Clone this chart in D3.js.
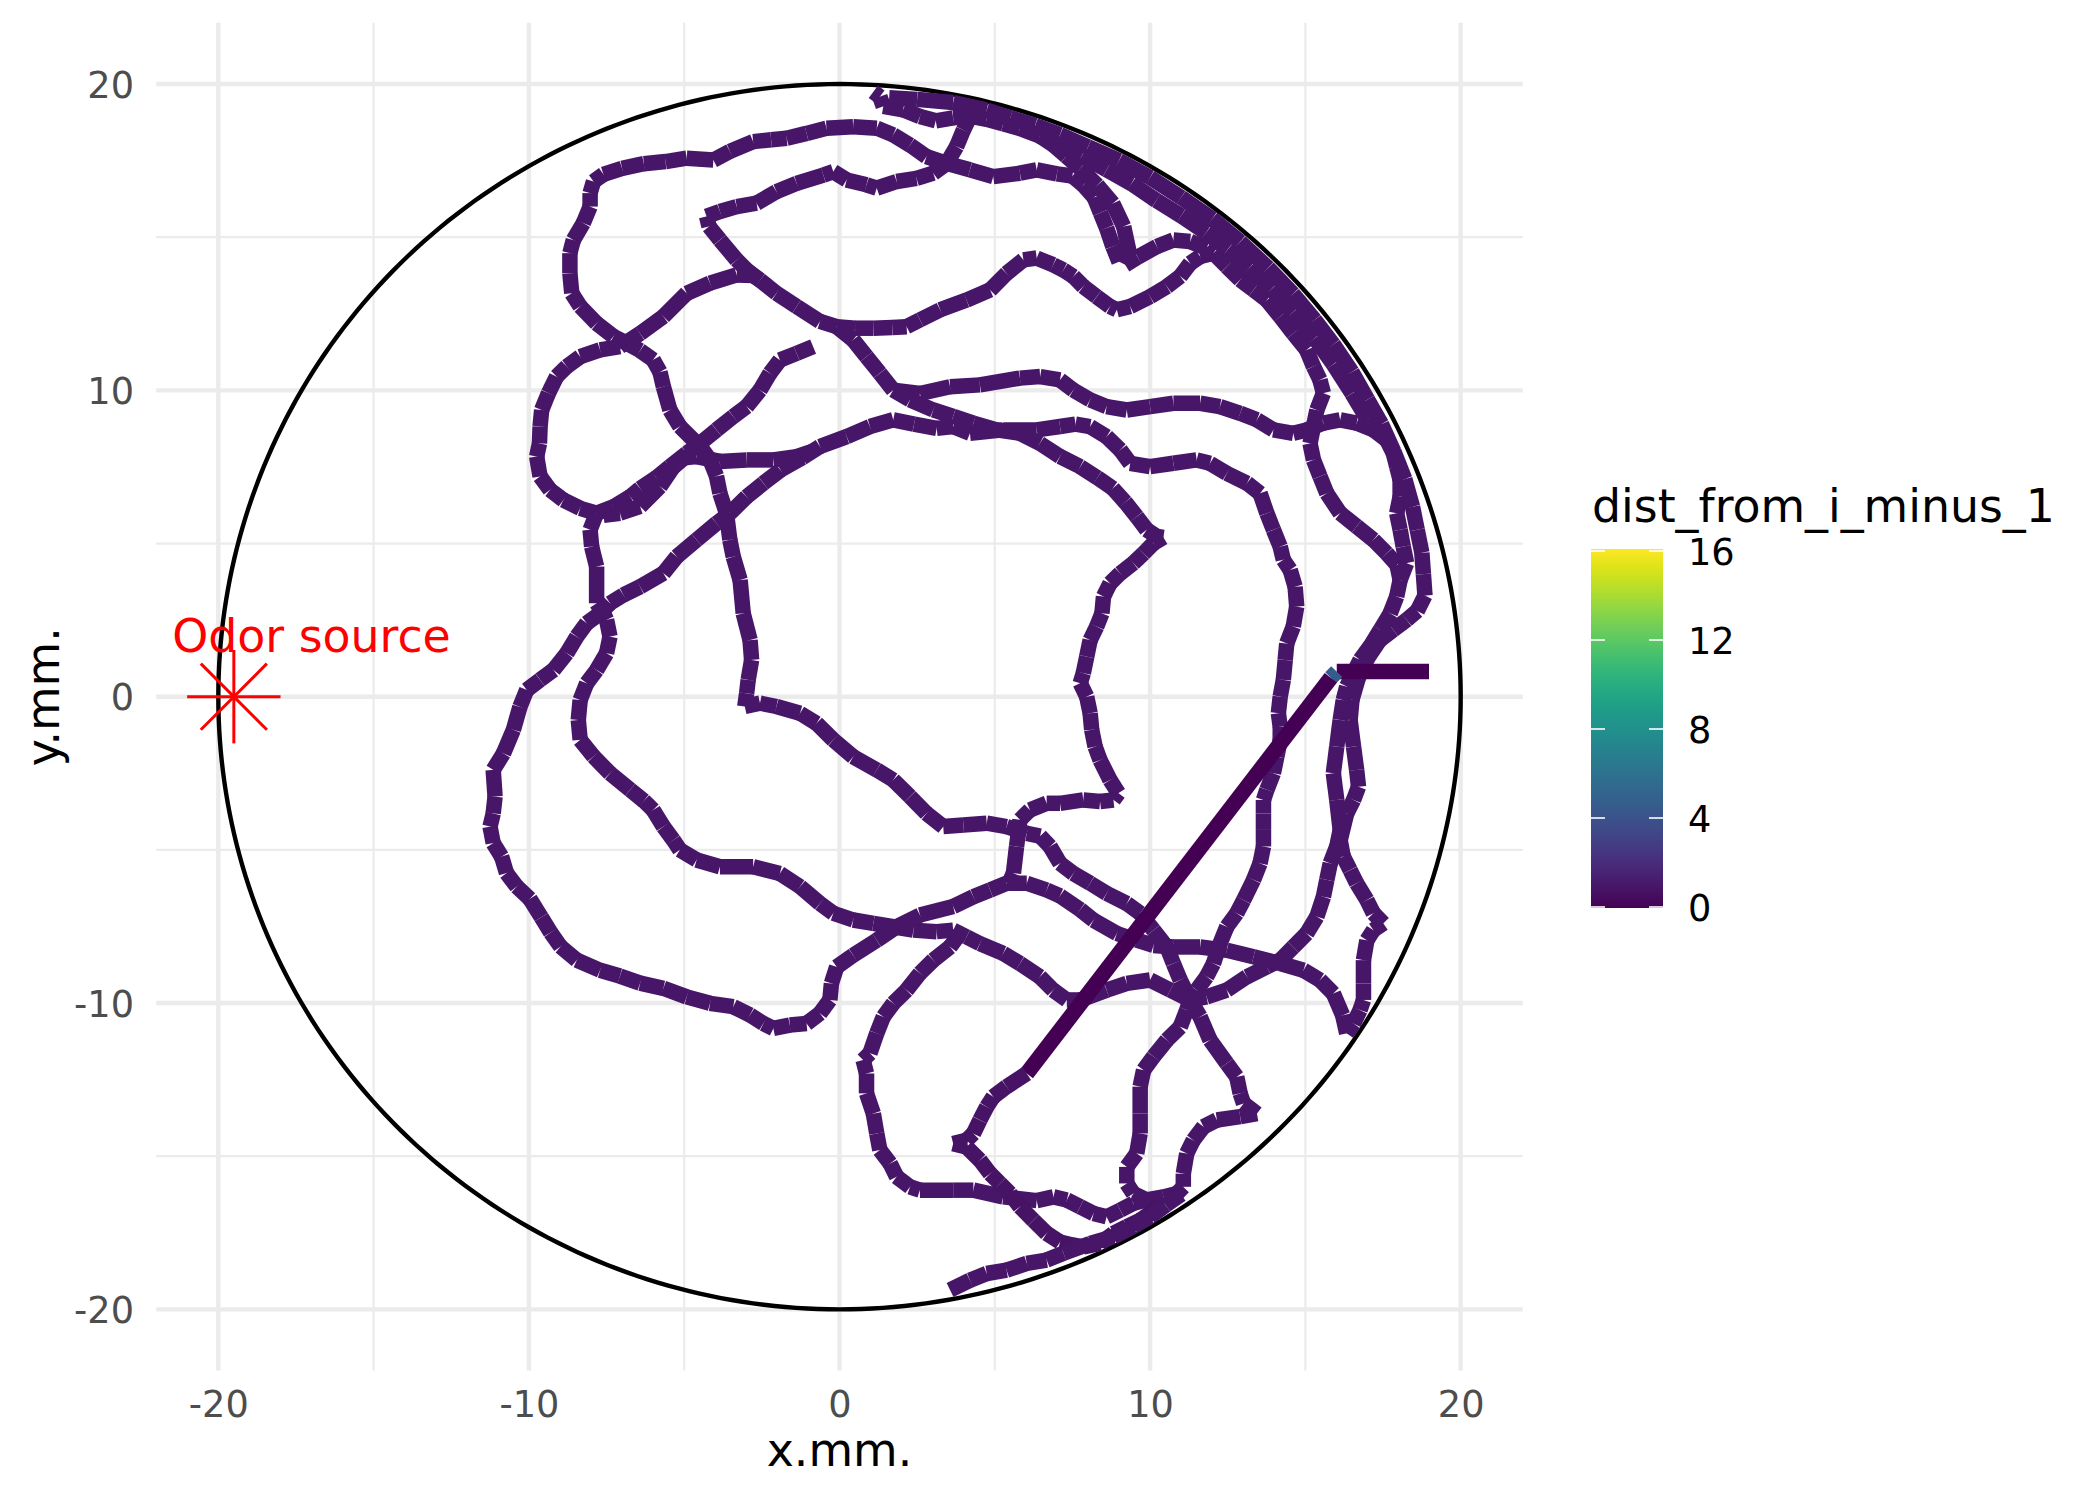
<!DOCTYPE html>
<html><head><meta charset="utf-8">
<script src="https://cdn.jsdelivr.net/npm/d3@7"></script>
<style>body{margin:0;background:#fff}svg{display:block}</style>
</head><body>
<svg id="chart" width="2100" height="1500"></svg>
<script>
// ---------------- data ----------------
const xMajor = [-20, -10, 0, 10, 20];
const yMajor = [-20, -10, 0, 10, 20];
const xMinor = [-15, -5, 5, 15];
const yMinor = [-15, -5, 5, 15];
const legendTicks = [0, 4, 8, 12, 16];
const arenaRadius = 20;
const odorSource = [-19.5, 0];
const odorLabel = {x: -17, y: 2, text: "Odor source"};

const trackLoopsUpper = [[-0.85,11.43],[-1.38,11.21],[-1.92,10.99],[-2.24,10.56],[-2.56,10.01],[-2.99,9.47],[-3.42,9.15],[-3.96,8.71],[-4.49,8.27],[-4.92,7.95],[-5.46,7.51],[-5.9,7.15],[-6.42,6.8],[-6.74,6.53],[-7.28,6.2],[-7.82,5.99],[-8.35,6.15],[-8.89,6.42],[-9.32,6.75],[-9.64,7.19],[-9.75,7.84],[-9.66,8.27],[-9.64,8.82],[-9.59,9.36],[-9.37,9.91],[-9.11,10.45],[-8.78,10.78],[-8.35,11.1],[-7.71,11.32],[-7.07,11.43],[-6.42,11.86],[-5.67,12.41],[-4.92,13.17],[-4.17,13.5],[-3.31,13.77],[-2.78,13.75],[-2.56,13.6],[-2.03,13.17],[-1.38,12.74],[-0.63,12.25],[-0.09,12.08],[0.5,12.03],[1.09,12.03],[1.7,12.05],[2.16,12.08],[2.59,12.3],[3.24,12.63],[4.09,12.95],[4.85,13.28],[5.38,13.82],[5.92,14.26],[6.35,14.32],[6.88,14.1],[7.21,13.93],[7.53,13.72],[7.85,13.39],[8.28,13.06],[8.71,12.74],[8.93,12.63],[9.36,12.74],[10.0,13.06],[10.54,13.39],[10.97,13.72],[11.29,14.15],[11.61,14.37],[12.04,14.48]];

const trackTopAndCentre = [[9.0,14.2],[8.8,14.7],[8.6,15.3],[8.4,15.8],[8.2,16.3],[7.85,16.7],[7.5,17.0],[7.0,17.07],[6.35,17.2],[5.81,17.09],[4.95,16.98],[4.2,17.2],[3.45,17.41],[2.8,17.63],[2.27,18.01],[1.73,18.34],[1.2,18.56],[0.44,18.61],[-0.42,18.56],[-1.06,18.39],[-1.7,18.23],[-2.2,18.18],[-2.78,18.12],[-3.53,17.8],[-4.06,17.52],[-4.92,17.58],[-5.6,17.47],[-6.3,17.4],[-7.0,17.25],[-7.6,17.05],[-7.92,16.82],[-8.03,16.44],[-8.03,16.0],[-8.25,15.46],[-8.57,14.91],[-8.68,14.48],[-8.68,13.82],[-8.62,13.17],[-8.35,12.74],[-7.82,12.19],[-7.28,11.76],[-6.85,11.54],[-6.42,11.3],[-6.0,11.0],[-5.78,10.6],[-5.67,10.12],[-5.46,9.36],[-5.14,8.82],[-4.49,8.17],[-4.17,7.73],[-3.96,7.2],[-3.85,6.64],[-3.64,5.99],[-3.53,5.12],[-3.42,4.57],[-3.2,3.81],[-3.1,2.72],[-2.88,1.85],[-2.83,1.2],[-2.94,0.55],[-2.99,0.11],[-3.05,-0.32],[-2.56,-0.21],[-2.03,-0.32],[-1.27,-0.54],[-0.74,-0.87],[-0.2,-1.41],[0.44,-1.96],[1.2,-2.39],[1.73,-2.72],[2.27,-3.26],[2.8,-3.81],[3.34,-4.24],[3.99,-4.19],[4.74,-4.13],[5.38,-4.24],[6.03,-4.46],[6.46,-4.55],[6.78,-4.89],[7.1,-5.44],[7.53,-5.77],[8.07,-6.09],[8.6,-6.42],[9.25,-6.75],[9.68,-7.07],[10.11,-7.62],[10.54,-8.17],[10.75,-8.71],[10.97,-9.25],[11.29,-9.9],[11.61,-10.45],[11.93,-11.21],[12.47,-11.97],[12.79,-12.41],[12.9,-12.95],[13.01,-13.28],[13.44,-13.61],[12.9,-13.71],[12.15,-13.82],[11.72,-14.04],[11.39,-14.48],[11.18,-14.91],[11.07,-15.57],[11.07,-16.0],[10.86,-16.22],[10.43,-16.33],[9.89,-16.43],[9.46,-16.54],[9.04,-16.76],[8.6,-16.98],[8.18,-16.87],[7.75,-16.65],[7.32,-16.43],[6.89,-16.33],[6.35,-16.45],[5.27,-16.33],[4.31,-16.11],[3.66,-16.11],[2.59,-16.11],[2.27,-16.0],[1.84,-15.67],[1.63,-15.24],[1.3,-14.8],[1.2,-14.26],[1.09,-13.61],[0.87,-12.95],[0.87,-12.3],[0.76,-11.86],[0.98,-11.64],[1.2,-10.99],[1.41,-10.45],[1.73,-10.01],[2.16,-9.58],[2.59,-9.03],[3.02,-8.6],[3.56,-8.17],[3.88,-7.73]];

const trackRightLoop = [[-7.82,5.99],[-8.03,5.45],[-7.98,4.9],[-7.82,4.25],[-7.82,3.81],[-7.82,3.05],[-7.6,2.72],[-7.5,2.51],[-7.39,1.96],[-7.5,1.42],[-7.82,0.87],[-8.14,0.44],[-8.35,-0.11],[-8.41,-0.76],[-8.35,-1.41],[-7.92,-1.95],[-7.39,-2.5],[-6.74,-3.04],[-6.3,-3.4],[-6.0,-3.7],[-5.67,-4.24],[-5.35,-4.68],[-5.14,-5.0],[-4.6,-5.33],[-3.85,-5.55],[-2.78,-5.55],[-1.92,-5.77],[-1.27,-6.2],[-0.63,-6.75],[-0.2,-7.07],[0.44,-7.29],[1.09,-7.4],[1.73,-7.51],[2.38,-7.62],[3.13,-7.67],[3.66,-7.62],[4.09,-7.84],[4.52,-8.06],[5.27,-8.38],[5.81,-8.71],[6.45,-9.14],[6.88,-9.58],[7.32,-9.9],[7.75,-9.9],[8.6,-9.58],[9.25,-9.36],[10.0,-9.25],[10.65,-9.58],[11.29,-9.9],[11.82,-9.8],[12.47,-9.58],[13.12,-9.14],[13.76,-8.82],[14.19,-8.6],[14.61,-8.17],[15.04,-7.73],[15.37,-7.18],[15.58,-6.53],[15.69,-5.98],[15.8,-5.44],[16.01,-4.89],[16.12,-4.35],[16.01,-3.37],[15.9,-2.5],[16.01,-1.63],[16.12,-0.76],[16.22,-0.11],[16.33,0.33],[16.55,0.77],[16.76,1.2],[17.08,1.64],[17.41,2.18],[17.73,2.72],[17.94,3.27],[18.05,3.81],[17.95,4.3],[17.62,4.68],[17.19,5.12],[16.65,5.56],[16.12,5.99],[15.69,6.64],[15.47,7.19],[15.26,7.73],[15.15,8.27],[15.26,8.82],[15.37,9.36],[15.58,9.91],[15.47,10.34],[15.26,10.78],[15.04,11.32],[14.61,11.86],[14.19,12.41],[13.76,12.95],[13.33,13.28],[12.9,13.61],[12.47,14.04],[12.04,14.48],[11.82,14.64],[11.29,14.86],[10.75,14.91],[10.22,14.7],[9.6,14.35],[9.2,14.1],[9.35,14.4],[9.15,15.35],[8.8,16.1],[8.3,16.7],[7.75,17.25],[7.3,17.65],[6.9,18.0],[6.45,18.3]];

const trackSecondTop = [[-2.56,13.6],[-2.99,13.93],[-3.31,14.26],[-3.85,14.91],[-4.2,15.35],[-4.28,15.68],[-3.85,15.84],[-3.31,16.0],[-2.67,16.11],[-2.03,16.49],[-1.38,16.76],[-0.52,17.03],[-0.2,17.14],[0.23,16.87],[0.87,16.71],[1.2,16.6],[1.84,16.82],[2.48,16.92],[3.02,17.09],[3.45,17.41],[3.77,17.96],[3.99,18.5],[4.2,18.94],[4.6,19.15]];

const trackWallInner = [[1.09,19.75],[1.3,19.59],[1.41,19.27],[2.05,19.16],[2.59,18.94],[3.1,18.8],[3.66,18.9],[4.2,18.95],[4.74,18.85],[5.27,18.7],[5.81,18.55],[6.45,18.3],[7.1,18.0],[7.8,17.65],[8.6,17.2],[9.4,16.75],[10.2,16.2],[11.0,15.7],[11.8,15.15],[12.5,14.6],[13.2,14.0],[13.9,13.3],[14.6,12.55],[15.3,11.7],[15.9,10.85],[16.5,9.9],[17.0,9.05],[17.62,8.38]];

const trackMidLine = [[-0.09,12.08],[0.44,11.65],[0.87,11.1],[1.3,10.56],[1.73,10.01],[2.59,9.9],[3.56,10.12],[4.52,10.18],[5.81,10.4],[6.46,10.45],[7.1,10.34],[7.53,10.01],[8.07,9.69],[8.6,9.47],[9.25,9.36],[10.0,9.47],[10.75,9.58],[11.61,9.58],[12.25,9.47],[12.9,9.25],[13.44,9.04],[13.97,8.71],[14.61,8.6],[15.04,8.71],[15.58,8.93],[16.12,9.04],[16.65,8.93],[17.19,8.71],[17.62,8.38],[17.83,7.95],[17.94,7.51],[18.05,7.08],[18.05,6.53],[17.94,5.99],[18.05,5.45],[18.15,4.9],[18.26,4.36],[18.05,3.81]];

const trackInnerLoop = [[1.73,10.01],[2.27,9.69],[3.02,9.36],[3.66,9.15],[4.31,8.93],[5.06,8.71],[5.81,8.6],[6.45,8.27],[7.1,7.84],[7.75,7.51],[8.3,7.15],[8.8,6.8],[9.2,6.35],[9.57,5.88],[9.89,5.45],[10.22,5.23],[10.43,5.2],[10.11,5.01],[9.79,4.68],[9.46,4.36],[9.04,4.03],[8.71,3.7],[8.5,3.27],[8.45,2.72],[8.28,2.29],[8.07,1.85],[7.96,1.31],[7.85,0.77],[7.75,0.44],[7.96,0.0],[8.07,-0.54],[8.12,-1.08],[8.23,-1.63],[8.39,-2.07],[8.71,-2.72],[8.98,-3.15],[8.82,-3.37],[8.39,-3.42],[7.85,-3.37],[7.1,-3.48],[6.67,-3.48],[6.13,-3.7],[5.81,-4.02],[5.7,-4.89],[5.6,-5.76],[5.45,-6.1]];

const trackLeftCross = [[-7.6,5.92],[-7.07,5.99],[-6.42,6.21],[-5.78,6.86],[-5.35,7.5],[-5.0,7.8],[-4.6,7.84],[-3.85,7.68],[-2.99,7.73],[-2.13,7.73],[-1.38,7.84],[-0.9,8.0]];

const trackWallOuter = [[1.6,19.55],[2.5,19.5],[3.66,19.4],[4.74,19.15],[5.5,18.9],[6.3,18.65],[7.1,18.35],[8.0,17.95],[9.0,17.5],[10.0,16.95],[11.0,16.3],[12.0,15.6],[12.9,14.85],[13.8,14.0],[14.6,13.15],[15.3,12.3],[15.9,11.5],[16.5,10.6],[17.0,9.7],[17.45,8.9],[17.85,8.0],[18.2,7.1],[18.45,6.2],[18.6,5.45],[18.75,4.7],[18.8,4.0],[18.85,3.3],[18.6,2.8],[18.26,2.51],[17.83,2.18],[17.4,1.85],[17.0,1.25],[16.7,0.6],[16.5,-0.1],[16.44,-0.76],[16.55,-1.63],[16.65,-2.39],[16.71,-2.94],[16.55,-3.37],[16.33,-3.81],[16.12,-4.68],[16.22,-5.22],[16.44,-5.66],[16.65,-6.09],[16.98,-6.64],[17.19,-7.07],[17.51,-7.4],[17.19,-7.62],[16.98,-7.95],[16.87,-8.6],[16.87,-9.36],[16.87,-9.9],[16.76,-10.23],[16.55,-10.67],[16.33,-10.99],[16.2,-10.4],[15.9,-9.69],[15.47,-9.25],[14.94,-8.93],[14.19,-8.71],[13.33,-8.49],[12.47,-8.28],[11.61,-8.17],[10.75,-8.17],[10.11,-8.12],[9.57,-7.95],[8.93,-7.73],[8.18,-7.3],[7.75,-6.95],[7.1,-6.5],[6.67,-6.31],[6.03,-6.09],[5.38,-6.09],[4.85,-6.31],[4.31,-6.53],[3.66,-6.85],[2.59,-7.13],[1.84,-7.51],[1.2,-7.95],[0.44,-8.44],[-0.09,-8.82],[-0.26,-9.36],[-0.31,-9.9],[-0.63,-10.34],[-1.06,-10.67],[-1.6,-10.72],[-2.13,-10.83],[-2.45,-10.67],[-2.88,-10.39],[-3.42,-10.12],[-4.17,-10.01],[-4.92,-9.8],[-5.67,-9.52],[-6.42,-9.35],[-7.07,-9.12],[-7.71,-8.93],[-8.46,-8.6],[-8.98,-8.16],[-9.3,-7.7],[-9.6,-7.2],[-9.97,-6.6],[-10.39,-6.2],[-10.72,-5.76],[-10.88,-5.22],[-11.15,-4.78],[-11.25,-4.24],[-11.15,-3.81],[-11.09,-3.26],[-11.15,-2.39],[-10.82,-1.85],[-10.5,-1.08],[-10.29,-0.33],[-10.07,0.22],[-9.64,0.55],[-9.21,0.87],[-8.78,1.42],[-8.46,1.96],[-8.14,2.4],[-7.71,2.72],[-7.39,3.05],[-6.96,3.32],[-6.42,3.59],[-5.67,4.03],[-5.24,4.57],[-4.6,5.12],[-3.96,5.66],[-3.53,5.99],[-2.99,6.53],[-2.45,6.97],[-1.9,7.4],[-1.2,7.8],[-0.63,8.17],[0.23,8.49],[0.98,8.82],[1.73,9.04],[2.4,8.9],[3.13,8.76],[3.66,8.82],[4.2,8.6],[5.27,8.71],[6.35,8.71],[7.1,8.82],[7.6,8.9],[8.07,8.82],[8.6,8.49],[9.04,8.06],[9.36,7.62],[10.0,7.51],[10.75,7.62],[11.5,7.73],[11.93,7.62],[12.47,7.29],[13.12,6.97],[13.54,6.64],[13.76,5.99],[13.97,5.45],[14.19,4.9],[14.29,4.47],[14.51,4.14],[14.67,3.59],[14.72,2.94],[14.61,2.29],[14.4,1.74],[14.35,1.2],[14.29,0.55],[14.19,0.0],[14.13,-0.54],[14.19,-0.98],[14.19,-1.41],[14.08,-1.96],[13.97,-2.5],[13.76,-3.04],[13.65,-3.37],[13.65,-3.81],[13.65,-4.35],[13.65,-4.89],[13.54,-5.44],[13.33,-5.98],[13.01,-6.64],[12.79,-7.07],[12.47,-7.51],[12.25,-8.06],[12.04,-8.71],[11.82,-9.14],[11.5,-9.58],[11.29,-9.9],[11.18,-10.23],[10.97,-10.78],[10.54,-11.21],[10.11,-11.75],[9.79,-12.19],[9.68,-12.73],[9.68,-13.61],[9.68,-14.26],[9.57,-14.91],[9.25,-15.35],[9.25,-15.89],[9.46,-16.22],[9.89,-16.43],[10.2,-16.75]];

const trackStub = [[18.98,0.82],[16.01,0.82]];
const trackJumpStart = [[16.01,0.82],[15.82,0.62]];
const trackJump = [[15.82,0.62],[6.03,-12.3]];
const trackLowerHook = [[6.03,-12.3],[5.38,-12.73],[4.95,-13.06],[4.74,-13.39],[4.52,-13.82],[4.31,-14.26],[4.09,-14.48],[3.66,-14.59],[4.09,-14.7],[4.52,-15.13],[4.85,-15.57],[5.17,-15.89],[5.49,-16.22],[5.81,-16.65],[6.24,-17.09],[6.67,-17.52],[7.1,-17.8],[7.5,-17.9],[7.85,-17.96],[8.39,-17.85],[8.82,-17.52],[9.25,-17.3],[9.68,-17.09],[10.0,-16.87],[10.3,-16.55]];
const trackBottomWall = [[3.56,-19.37],[4.2,-19.05],[4.74,-18.83],[5.38,-18.72],[6.03,-18.5],[6.67,-18.39],[7.21,-18.17],[8.07,-17.85],[8.82,-17.63],[9.46,-17.3],[10.0,-16.98],[10.5,-16.6],[11.0,-16.25]];

// colour value (distance from previous point) read per piece
const trackList = [trackLoopsUpper, trackTopAndCentre, trackRightLoop, trackSecondTop, trackWallInner, trackMidLine, trackInnerLoop, trackLeftCross, trackWallOuter, trackStub, trackJumpStart, trackJump, trackLowerHook, trackBottomWall];
const trackDist = [0.9, 0.9, 0.9, 0.9, 0.9, 0.9, 0.9, 0.9, 0.9, 0.05, 4.6, 0.05, 0.8, 0.9];

// ---------------- drawing ----------------
const W = 2100, H = 1500;
const FONT = "DejaVu Sans";
const x = d3.scaleLinear().domain([-22, 22]).range([156.2, 1522.8]);
const y = d3.scaleLinear().domain([-22, 22]).range([1370.6, 22.8]);
const color = d3.scaleSequential(d3.interpolateViridis).domain([0, 16]);

const svg = d3.select("#chart");
svg.append("rect").attr("width", W).attr("height", H).attr("fill", "#fff");

const grid = svg.append("g");
grid.selectAll(".vmin").data(xMinor).join("line")
  .attr("x1", d => x(d)).attr("x2", d => x(d)).attr("y1", y(-22)).attr("y2", y(22))
  .attr("stroke", "#EBEBEB").attr("stroke-width", 2.2);
grid.selectAll(".hmin").data(yMinor).join("line")
  .attr("y1", d => y(d)).attr("y2", d => y(d)).attr("x1", x(-22)).attr("x2", x(22))
  .attr("stroke", "#EBEBEB").attr("stroke-width", 2.2);
grid.selectAll(".vmaj").data(xMajor).join("line")
  .attr("x1", d => x(d)).attr("x2", d => x(d)).attr("y1", y(-22)).attr("y2", y(22))
  .attr("stroke", "#EBEBEB").attr("stroke-width", 4.4);
grid.selectAll(".hmaj").data(yMajor).join("line")
  .attr("y1", d => y(d)).attr("y2", d => y(d)).attr("x1", x(-22)).attr("x2", x(22))
  .attr("stroke", "#EBEBEB").attr("stroke-width", 4.4);

// axes
const xAxis = svg.append("g").attr("transform", `translate(0,${y(-22)})`)
  .call(d3.axisBottom(x).tickValues(xMajor).tickSize(0).tickPadding(20.5).tickFormat(d => String(d)));
const yAxis = svg.append("g").attr("transform", `translate(${x(-22)},0)`)
  .call(d3.axisLeft(y).tickValues(yMajor).tickSize(0).tickPadding(22.2).tickFormat(d => String(d)));
[xAxis, yAxis].forEach(g => {
  g.select(".domain").remove();
  g.selectAll("text").attr("font-family", FONT).attr("font-size", 36.7).attr("fill", "#4D4D4D");
});
yAxis.selectAll("text").attr("dy", "0.36em");

// arena
const circlePts = d3.range(0, 361, 1).map(a => [arenaRadius * Math.cos(a * Math.PI / 180), arenaRadius * Math.sin(a * Math.PI / 180)]);
svg.append("path").attr("d", d3.line().x(d => x(d[0])).y(d => y(d[1]))(circlePts))
  .attr("fill", "none").attr("stroke", "#000").attr("stroke-width", 4.4);

// trajectory segments
const segs = [];
trackList.forEach((t, k) => {
  for (let i = 1; i < t.length; i++) segs.push({a: t[i - 1], b: t[i], d: trackDist[k]});
});
svg.append("g").selectAll("line").data(segs).join("line")
  .attr("x1", s => x(s.a[0])).attr("y1", s => y(s.a[1]))
  .attr("x2", s => x(s.b[0])).attr("y2", s => y(s.b[1]))
  .attr("stroke", s => color(s.d)).attr("stroke-width", 15.5).attr("stroke-linecap", "butt");

// odor source
const sx = x(odorSource[0]), sy = y(odorSource[1]), r = 46.7, rd = r / Math.SQRT2;
const star = svg.append("g").attr("stroke", "#FF0000").attr("stroke-width", 3);
[[0, -r, 0, r], [-r, 0, r, 0], [-rd, -rd, rd, rd], [-rd, rd, rd, -rd]].forEach(l =>
  star.append("line").attr("x1", sx + l[0]).attr("y1", sy + l[1]).attr("x2", sx + l[2]).attr("y2", sy + l[3]));
svg.append("text").attr("x", x(odorLabel.x)).attr("y", y(odorLabel.y) + 16.6)
  .attr("text-anchor", "middle").attr("font-family", FONT).attr("font-size", 45.8)
  .attr("fill", "#FF0000").text(odorLabel.text);

// axis titles
svg.append("text").attr("x", (x(-22) + x(22)) / 2).attr("y", 1466).attr("text-anchor", "middle")
  .attr("font-family", FONT).attr("font-size", 45.8).attr("fill", "#000").text("x.mm.");
svg.append("text").attr("transform", `translate(59,${(y(-22) + y(22)) / 2}) rotate(-90)`).attr("text-anchor", "middle")
  .attr("font-family", FONT).attr("font-size", 45.8).attr("fill", "#000").text("y.mm.");

// legend
const lg = d3.scaleLinear().domain([0, 16]).range([907, 551]);
const defs = svg.append("defs");
const grad = defs.append("linearGradient").attr("id", "vir").attr("x1", 0).attr("x2", 0).attr("y1", 1).attr("y2", 0);
d3.range(0, 1.0001, 0.05).forEach(t => grad.append("stop").attr("offset", t).attr("stop-color", d3.interpolateViridis(t)));
svg.append("text").attr("x", 1592).attr("y", 522).attr("font-family", FONT).attr("font-size", 45.8)
  .attr("fill", "#000").text("dist_from_i_minus_1");
svg.append("rect").attr("x", 1591).attr("y", 549).attr("width", 72).attr("height", 359).attr("fill", "url(#vir)");
const lt = svg.append("g");
lt.selectAll(".tl").data(legendTicks).join("line").attr("x1", 1591).attr("x2", 1605)
  .attr("y1", d => lg(d)).attr("y2", d => lg(d)).attr("stroke", "#fff").attr("stroke-width", 1.6);
lt.selectAll(".tr").data(legendTicks).join("line").attr("x1", 1649).attr("x2", 1663)
  .attr("y1", d => lg(d)).attr("y2", d => lg(d)).attr("stroke", "#fff").attr("stroke-width", 1.6);
const lAxis = svg.append("g").attr("transform", "translate(1663,0)")
  .call(d3.axisRight(lg).tickValues(legendTicks).tickSize(0).tickPadding(25).tickFormat(d => String(d)));
lAxis.select(".domain").remove();
lAxis.selectAll("text").attr("font-family", FONT).attr("font-size", 36.7).attr("fill", "#000").attr("dy", "0.36em");
</script>
</body></html>
